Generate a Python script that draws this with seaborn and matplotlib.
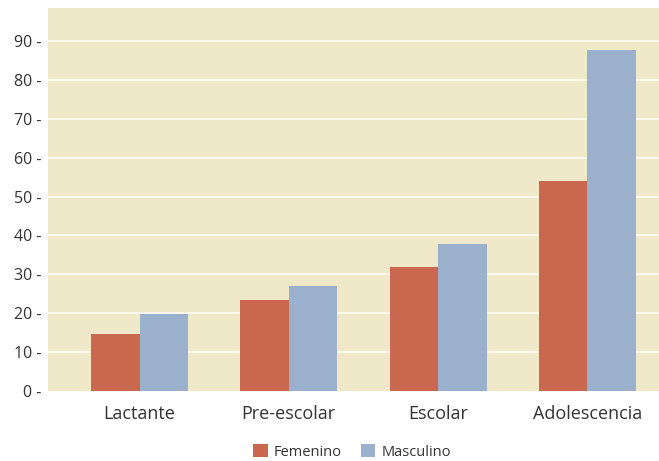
import pandas as pd
import matplotlib.pyplot as plt
import seaborn as sns

# Datos
grupos = ['Lactante', 'Pre-escolar', 'Escolar', 'Adolescencia']
femenino = [14.7, 23.3, 32.0, 54.0]
masculino = [19.7, 27.0, 37.7, 87.7]
ticks_y = [0, 10, 20, 30, 40, 50, 60, 70, 80, 90]

df = pd.DataFrame({
    'grupo': grupos * 2,
    'sexo': ['Femenino'] * len(grupos) + ['Masculino'] * len(grupos),
    'valor': femenino + masculino,
})

sns.set_style('white')
plt.rcParams['font.family'] = ['Open Sans', 'DejaVu Sans']

fig = plt.figure(figsize=(6.59, 4.61), dpi=100)
ax = fig.add_axes([48 / 659, 1 - 391 / 461, 611 / 659, 383 / 461])
ax.set_facecolor('#efe9c9')

sns.barplot(data=df, x='grupo', y='valor', hue='sexo', order=grupos,
            palette={'Femenino': '#c9674f', 'Masculino': '#9bb0cc'},
            width=0.65, gap=0, saturation=1, linewidth=0, ax=ax, zorder=3)

# lineas de rejilla blancas
for v in ticks_y[1:]:
    ax.axhline(v, color='#fbf8ee', lw=1.5, zorder=1)

ax.set_xlim(-0.613, 3.48)
ax.set_ylim(0, 98.5)
ax.set_yticks(ticks_y)
ax.set_yticklabels([f'{v} -' for v in ticks_y], fontsize=11.5, color='#333333')
ax.tick_params(axis='both', length=0, pad=5)
ax.tick_params(axis='x', labelsize=13, labelcolor='#333333', pad=10)
ax.set_xlabel('')
ax.set_ylabel('')
for s in ax.spines.values():
    s.set_visible(False)

handles, labels = ax.get_legend_handles_labels()
ax.get_legend().remove()
fig.legend(handles, labels, loc='center', bbox_to_anchor=(352 / 659, 1 - 452 / 461),
           ncol=2, frameon=False, fontsize=10.5, handlelength=1.0, handleheight=1.0,
           handletextpad=0.4, columnspacing=1.3, labelcolor='#333333')

plt.savefig('out.png', dpi=100)
